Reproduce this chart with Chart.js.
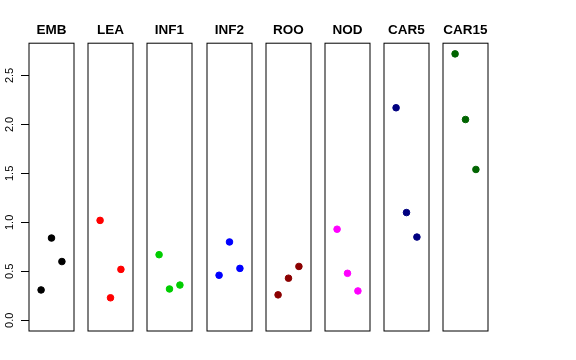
<!DOCTYPE html>
<html>
<head>
<meta charset="utf-8">
<script src="https://cdn.jsdelivr.net/npm/chart.js@4"></script>
<style>
  body { margin: 0; background: #fff; }
  #wrap { position: relative; width: 576px; height: 360px; }
  #wrap canvas { position: absolute; top: 0; }
</style>
</head>
<body>
<div id="wrap"></div>
<script>
const groups = ['EMB', 'LEA', 'INF1', 'INF2', 'ROO', 'NOD', 'CAR5', 'CAR15']
const colors = ['#000000', '#FF0000', '#00CD00', '#0000FF', '#8B0000', '#FF00FF', '#000080', '#006400']
const positions = [1, 2, 3]

const embValues = [0.31, 0.84, 0.60]
const leaValues = [1.02, 0.23, 0.52]
const inf1Values = [0.67, 0.32, 0.36]
const inf2Values = [0.46, 0.80, 0.53]
const rooValues = [0.26, 0.43, 0.55]
const nodValues = [0.93, 0.48, 0.30]
const car5Values = [2.17, 1.10, 0.85]
const car15Values = [2.72, 2.05, 1.54]

const values = [embValues, leaValues, inf1Values, inf2Values, rooValues, nodValues, car5Values, car15Values]

const yMin = -0.109
const yMax = 2.829
const yStep = 0.5

Chart.defaults.font.family = "'Liberation Sans', Arial, sans-serif"
Chart.defaults.color = '#000'

// plot box around each panel
const boxBorder = {
    id: 'boxBorder',
    afterDatasetsDraw(chart) {
        const { ctx, chartArea: a } = chart
        ctx.save()
        ctx.strokeStyle = '#000'
        ctx.lineWidth = 1
        ctx.strokeRect(a.left, a.top, a.right - a.left, a.bottom - a.top)
        ctx.restore()
    }
}

const panelStep = 59.2
const axisWidth = 29
const panelWidth = 45
const wrap = document.getElementById('wrap')

groups.forEach((name, i) => {
    const withAxis = i === 0
    const canvas = document.createElement('canvas')
    canvas.width = axisWidth * 2 + panelWidth
    canvas.height = 360
    canvas.style.left = Math.round(i * panelStep) + 'px'
    wrap.appendChild(canvas)

    const data = {
        datasets: [{
            data: positions.map((x, j) => ({ x, y: values[i][j] })),
            backgroundColor: colors[i],
            borderColor: colors[i],
            pointRadius: 3.3,
            pointHoverRadius: 3.3
        }]
    }

    const options = {
        responsive: false,
        animation: false,
        events: [],
        layout: {
            autoPadding: false,
            padding: { top: 22, bottom: 29, left: withAxis ? 0 : axisWidth, right: axisWidth }
        },
        plugins: {
            legend: { display: false },
            tooltip: { enabled: false },
            title: {
                display: true,
                text: name,
                color: '#000',
                fullSize: !withAxis,
                font: { size: 13.5, weight: 'bold' },
                padding: { top: 0, bottom: 5 }
            }
        },
        scales: {
            x: { type: 'linear', display: false, min: -0.16, max: 4.16 },
            y: {
                display: withAxis,
                min: yMin,
                max: yMax,
                afterFit: scale => { if (withAxis) scale.width = axisWidth },
                border: { display: false },
                grid: { drawOnChartArea: false, tickLength: 8, color: '#000' },
                ticks: {
                    stepSize: yStep,
                    includeBounds: false,
                    minRotation: 90,
                    maxRotation: 90,
                    crossAlign: 'center',
                    padding: 3,
                    font: { size: 11 },
                    callback: v => v.toFixed(1)
                }
            }
        }
    }

    new Chart(canvas, { type: 'scatter', data, options, plugins: [boxBorder] })
})
</script>
</body>
</html>
